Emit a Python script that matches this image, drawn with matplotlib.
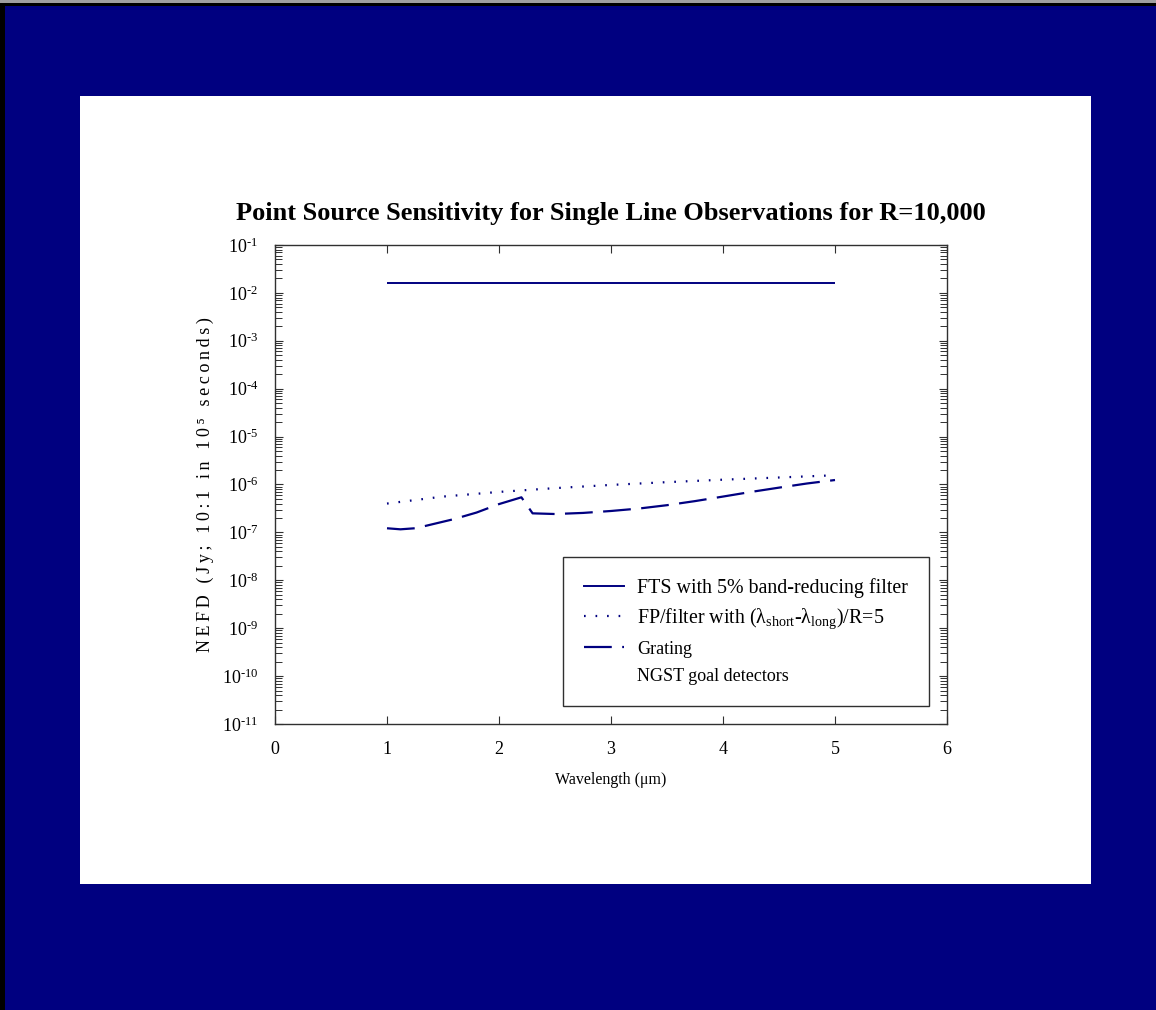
import matplotlib
matplotlib.use("Agg")
import matplotlib.pyplot as plt
from matplotlib.lines import Line2D
from matplotlib.patches import Rectangle
from matplotlib.ticker import LogLocator, FixedLocator, FuncFormatter
import math

plt.rcParams['font.family'] = ['Liberation Serif', 'DejaVu Serif']
plt.rcParams['mathtext.fontset'] = 'custom'
plt.rcParams['mathtext.rm'] = 'Liberation Serif'
plt.rcParams['mathtext.it'] = 'Liberation Serif:italic'
plt.rcParams['mathtext.bf'] = 'Liberation Serif:bold'
plt.rcParams['lines.scale_dashes'] = False

# ---- data ----
fts_x = [1.0, 5.0]
fts_y = [1.6e-2, 1.6e-2]

fp_x = [1.0, 1.5, 2.0, 2.5, 3.0, 3.5, 4.0, 4.5, 5.0]
fp_y = [4.0e-7, 5.6e-7, 7.0e-7, 8.4e-7, 9.8e-7, 1.12e-6, 1.26e-6, 1.4e-6, 1.56e-6]

gr_x = [1.0, 1.12, 1.25, 1.34, 1.6, 1.8, 2.0, 2.2, 2.3, 2.5, 2.75, 3.0,
        3.25, 3.5, 3.75, 4.0, 4.25, 4.5, 4.75, 5.0]
gr_y = [1.22e-7, 1.16e-7, 1.22e-7, 1.36e-7, 1.9e-7, 2.6e-7, 3.9e-7, 5.4e-7,
        2.5e-7, 2.42e-7, 2.55e-7, 2.8e-7, 3.15e-7, 3.7e-7, 4.5e-7, 5.6e-7,
        7.0e-7, 8.6e-7, 1.05e-6, 1.24e-6]

labels = ["FTS with 5% band-reducing filter",
          "FP/filter with (\u03bb$_{\\rm short}$-\u03bb$_{\\rm long}$)/R=5",
          "Grating",
          "NGST goal detectors"]
title = "Point Source Sensitivity for Single Line Observations for R=10,000"
xlabel = "Wavelength (\u03bcm)"
ylabel = "NEFD (Jy; 10:1 in 10\u2075 seconds)"
xticks = [0, 1, 2, 3, 4, 5, 6]

NAVY = '#000080'
W, H = 1156, 1010
fig = plt.figure(figsize=(W / 100, H / 100), dpi=100, facecolor=NAVY)

# white panel
fig.patches.append(Rectangle((80 / W, 1 - 884 / H), (1091 - 80) / W, (884 - 96) / H,
                             transform=fig.transFigure, facecolor='white',
                             edgecolor='none', zorder=-10))
# thin outer edges (top grey + black, left black)
fig.patches.append(Rectangle((0, 1 - 3 / H), 1, 3 / H, transform=fig.transFigure,
                             facecolor='#a0a0a0', edgecolor='none', zorder=-9))
fig.patches.append(Rectangle((0, 1 - 5.5 / H), 1, 2.5 / H, transform=fig.transFigure,
                             facecolor='black', edgecolor='none', zorder=-9))
fig.patches.append(Rectangle((0, 0), 5 / W, 1 - 3 / H, transform=fig.transFigure,
                             facecolor='black', edgecolor='none', zorder=-9))

ax = fig.add_axes([275 / W, 1 - 724 / H, (947 - 275) / W, (724 - 245) / H])
ax.set_zorder(5)
ax.set_facecolor('white')

ax.plot(fts_x, fts_y, color=NAVY, lw=1.4, solid_capstyle='butt')
ax.plot(fp_x, fp_y, color=NAVY, lw=1.6, linestyle=(0, (1.2, 7.1)), dash_capstyle='butt')
ax.plot(gr_x, gr_y, color=NAVY, lw=1.6, linestyle=(0, (20, 7.5)), dash_capstyle='butt')

ax.set_yscale('log')
ax.set_xlim(0, 6)
ax.set_ylim(1e-11, 1e-1)
ax.xaxis.set_major_locator(FixedLocator(xticks))
ax.yaxis.set_major_locator(LogLocator(base=10, numticks=20))
ax.yaxis.set_minor_locator(LogLocator(base=10, subs=range(2, 10), numticks=100))


def yfmt(v, pos):
    e = int(round(math.log10(v)))
    s = str(e).replace('-', '\u2010')
    return '10$^{\\rm ' + s + '}$'


ax.yaxis.set_major_formatter(FuncFormatter(yfmt))

ax.tick_params(which='both', direction='in', top=True, right=True, colors='#303030',
               labelcolor='black', labelsize=13)
ax.tick_params(which='major', length=6, width=0.8)
ax.tick_params(axis='x', which='major', pad=12)
ax.tick_params(axis='y', which='major', pad=12)
ax.tick_params(which='minor', length=5, width=0.7)
ax.tick_params(axis='x', which='minor', top=False, bottom=False)
for s in ax.spines.values():
    s.set_color('#303030')
    s.set_linewidth(1.0)

ax.set_title(title, fontsize=19, fontweight='bold', pad=18)
ax.set_xlabel(xlabel, fontsize=11.5, labelpad=10)
ax.set_ylabel('\u2009'.join(list(ylabel)), fontsize=13)
ax.yaxis.set_label_coords((214 - 275) / 672, 0.5)

handles = [Line2D([], [], color=NAVY, lw=1.4),
           Line2D([], [], color=NAVY, lw=1.6, linestyle=(0, (1.2, 7.1))),
           Line2D([], [], color=NAVY, lw=1.6, linestyle=(0, (20, 7.5))),
           Line2D([], [], color='white', lw=0)]
leg = ax.legend(handles, labels, loc='upper left',
                bbox_to_anchor=((563 - 275) / 672, (724 - 557) / 479),
                frameon=True, fancybox=False, edgecolor='#303030', framealpha=1,
                fontsize=14.4, handlelength=2.0, handletextpad=0.65,
                labelspacing=0.45, borderpad=1.05, borderaxespad=0)
leg.get_frame().set_linewidth(1.0)
for t in leg.get_texts()[2:]:
    t.set_fontsize(13)

fig.savefig('out.png', dpi=100, facecolor=NAVY)
